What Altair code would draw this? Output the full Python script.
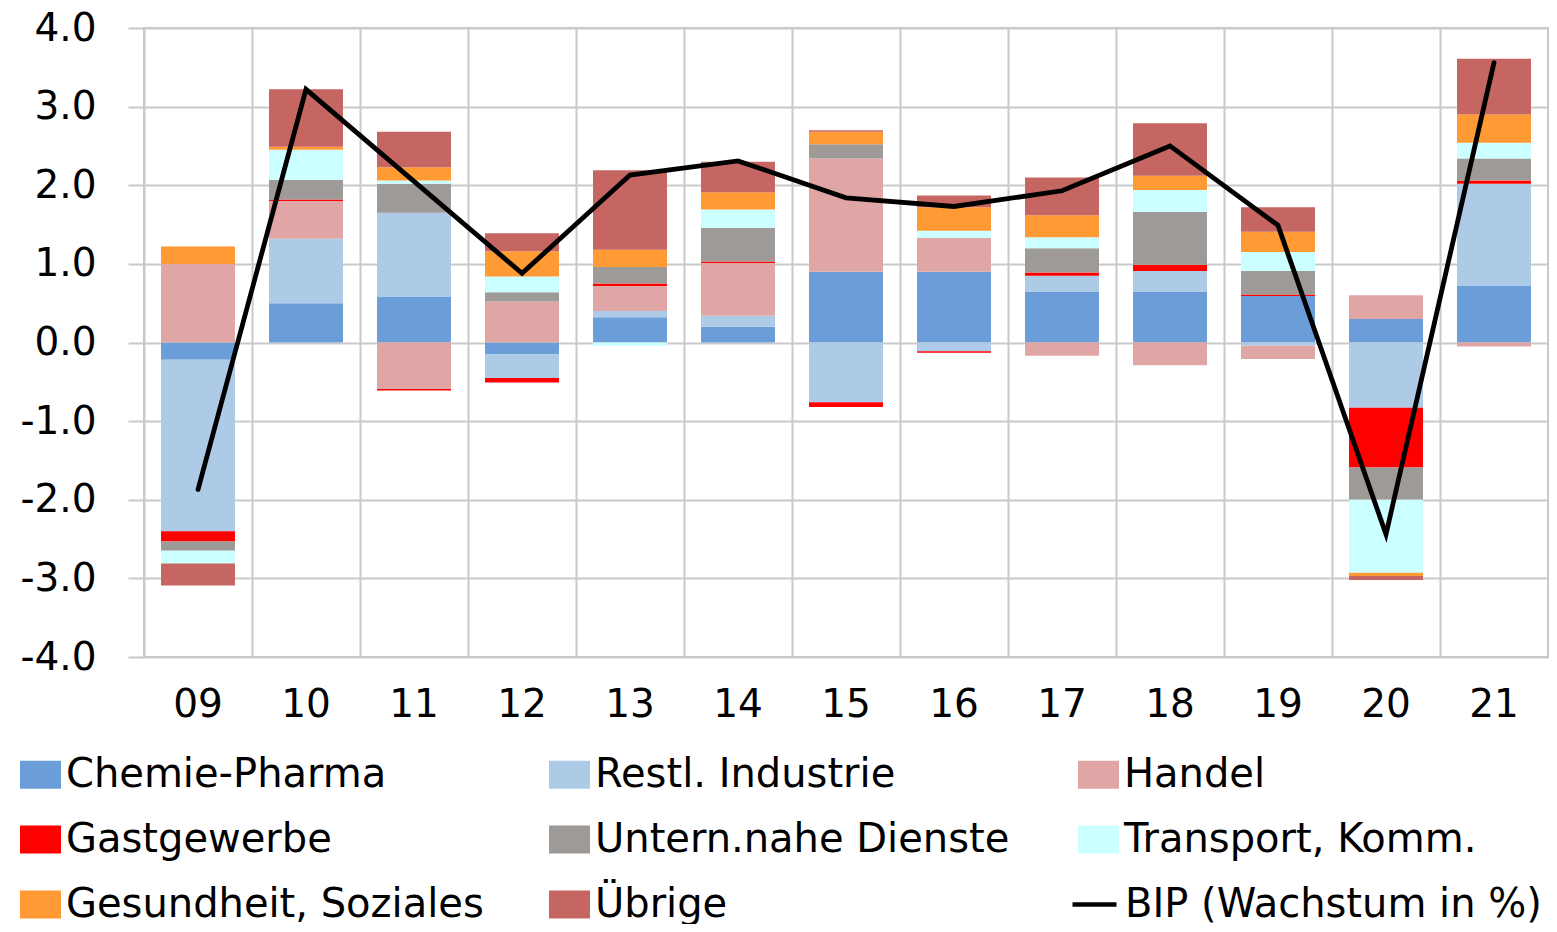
import altair as alt
import pandas as pd

years = ["09", "10", "11", "12", "13", "14", "15", "16", "17", "18", "19", "20", "21"]

series_names = [
    "Chemie-Pharma", "Restl. Industrie", "Handel", "Gastgewerbe",
    "Untern.nahe Dienste", "Transport, Komm.", "Gesundheit, Soziales", "Übrige",
]
line_name = "BIP (Wachstum in %)"

chemie = [-0.22, 0.50, 0.58, -0.15, 0.32, 0.20, 0.90, 0.90, 0.65, 0.65, 0.59, 0.30, 0.72]
restl = [-2.18, 0.82, 1.07, -0.30, 0.08, 0.14, -0.76, -0.11, 0.20, 0.26, -0.04, -0.83, 1.30]
handel = [1.00, 0.48, -0.59, 0.52, 0.32, 0.67, 1.44, 0.43, -0.17, -0.29, -0.17, 0.30, -0.05]
gastgewerbe = [-0.13, 0.02, -0.02, -0.06, 0.03, 0.02, -0.06, -0.02, 0.04, 0.08, 0.02, -0.76, 0.04]
untern = [-0.12, 0.25, 0.37, 0.12, 0.21, 0.43, 0.18, 0.00, 0.31, 0.67, 0.30, -0.41, 0.28]
transport = [-0.16, 0.38, 0.04, 0.20, -0.04, 0.23, 0.00, 0.09, 0.14, 0.28, 0.24, -0.93, 0.20]
gesundheit = [0.22, 0.04, 0.17, 0.32, 0.22, 0.22, 0.16, 0.30, 0.28, 0.18, 0.26, -0.04, 0.36]
uebrige = [-0.28, 0.73, 0.45, 0.23, 1.01, 0.39, 0.02, 0.15, 0.48, 0.67, 0.31, -0.05, 0.71]
bip = [-1.87, 3.22, 2.05, 0.88, 2.13, 2.31, 1.84, 1.73, 1.93, 2.50, 1.49, -2.44, 3.56]

bar_colors = ["#6b9ed8", "#adcbe6", "#e0a6a5", "#ff0000", "#9e9a98", "#ccffff", "#ff9a35", "#c66662"]
line_color = "#000000"

all_series = [chemie, restl, handel, gastgewerbe, untern, transport, gesundheit, uebrige]

rows = []
for i, (name, vals) in enumerate(zip(series_names, all_series)):
    for y, v in zip(years, vals):
        rows.append({"year": y, "series": name, "value": v, "idx": i})
bars_df = pd.DataFrame(rows)
line_df = pd.DataFrame({"year": years, "series": line_name, "value": bip})

FONT = "DejaVu Sans"
GRID = "#c9c9c9"
FS = 39
LFS = 40
sq = "M-1,-0.68H1V0.68H-1Z"

COLPAD = 65
LX = -124
LY = 726
ROWPAD = 24

bar_legend = alt.Legend(
    title=None, orient="none", legendX=LX, legendY=LY,
    direction="horizontal",
    columns=3, gridAlign="all", columnPadding=COLPAD, rowPadding=ROWPAD,
    symbolType=sq, symbolSize=1681, symbolStrokeWidth=0, symbolOpacity=1,
    labelFont=FONT, labelFontSize=LFS, labelColor="black", labelLimit=800, labelOffset=5,
)

x_enc = alt.X(
    "year:N",
    sort=years,
    title=None,
    scale=alt.Scale(paddingInner=0, paddingOuter=0),
    axis=alt.Axis(
        grid=True, bandPosition=0, ticks=False, domain=False, labelAngle=0,
        labelFont=FONT, labelFontSize=FS, labelColor="black", labelPadding=28,
        gridColor=GRID, gridWidth=2,
    ),
)

y_scale = alt.Scale(domain=[-4, 4], nice=False)
y_axis = alt.Axis(
    values=[-4, -3, -2, -1, 0, 1, 2, 3, 4],
    labelExpr="replace(format(datum.value, '.1f'), '\u2212', '-')",
    grid=True, gridColor=GRID, gridWidth=2,
    tickColor=GRID, tickWidth=2, tickSize=16,
    domain=False, labelFont=FONT, labelFontSize=FS, labelColor="black",
    labelPadding=32,
)

bars = alt.Chart(bars_df).mark_bar(width={"band": 0.685}).encode(
    x=x_enc,
    y=alt.Y("sum(value):Q", stack="zero", scale=y_scale, axis=y_axis, title=None),
    fill=alt.Fill("series:N", scale=alt.Scale(domain=series_names, range=bar_colors), legend=bar_legend),
    order=alt.Order("idx:Q", sort="ascending"),
)

line_legend = alt.Legend(
    title=None, orient="none", legendX=LX + 1050, legendY=LY + 2 * (41 + ROWPAD) - 4,
    symbolType="stroke", symbolSize=1936, symbolStrokeWidth=4.5,
    labelFont=FONT, labelFontSize=LFS, labelColor="black", labelLimit=800, labelOffset=6,
)

line = alt.Chart(line_df).mark_line(strokeWidth=4.8, strokeCap="round").encode(
    x=alt.X("year:N", sort=years),
    y=alt.Y("value:Q", scale=y_scale),
    stroke=alt.Stroke("series:N", scale=alt.Scale(domain=[line_name], range=[line_color]), legend=line_legend),
)

chart = alt.layer(bars, line).properties(
    width=1404,
    height=629,
    padding={"left": 136, "top": 20, "right": 1, "bottom": 267},
    autosize=alt.AutoSizeParams(type="none"),
).configure_view(stroke=GRID, strokeWidth=2)

chart.save("out.html", embed_options={"renderer": "svg", "actions": False})
